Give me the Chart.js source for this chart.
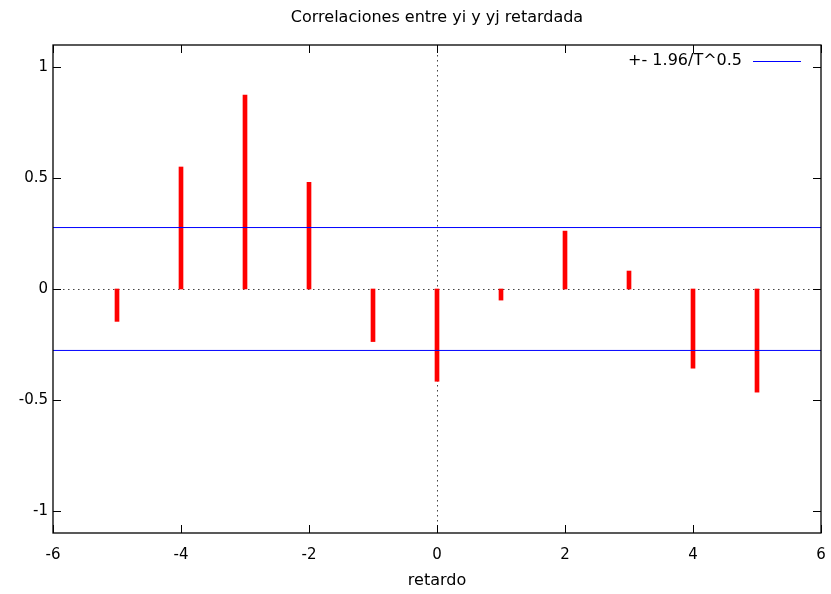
<!DOCTYPE html>
<html>
<head>
<meta charset="utf-8">
<script src="https://cdn.jsdelivr.net/npm/chart.js@4/dist/chart.umd.min.js"></script>
<style>
  html, body { margin: 0; padding: 0; background: #fff; }
  #wrap { width: 831px; height: 594px; position: relative; }
</style>
</head>
<body>
<div id="wrap"><canvas id="c"></canvas></div>
<script>
// ---- data ----
const lags = [-5, -4, -3, -2, -1, 0, 1, 2, 3, 4, 5];
const correlations = [-0.146, 0.550, 0.874, 0.481, -0.237, -0.416, -0.050, 0.261, 0.081, -0.357, -0.465];
const bandValue = 0.277;
const bandLabel = '+- 1.96/T^0.5';
const xTicks = [-6, -4, -2, 0, 2, 4, 6];
const yTicks = [-1, -0.5, 0, 0.5, 1];
const titleText = 'Correlaciones entre yi y yj retardada';
const xTitle = 'retardo';

const FONT = "'DejaVu Sans', sans-serif";

const frameTicks = {
  id: 'frameTicks',
  beforeDatasetsDraw(chart) {
    const ctx = chart.ctx, a = chart.chartArea;
    const xs = chart.scales.x, ys = chart.scales.y;
    ctx.save();
    ctx.strokeStyle = '#444';
    ctx.lineWidth = 1;
    ctx.setLineDash([1.5, 3.5]);
    const x0 = Math.round(xs.getPixelForValue(0)) + 0.5;
    const y0 = Math.round(ys.getPixelForValue(0)) + 0.5;
    ctx.beginPath();
    ctx.moveTo(x0, a.top); ctx.lineTo(x0, a.bottom);
    ctx.moveTo(a.left, y0); ctx.lineTo(a.right, y0);
    ctx.stroke();
    ctx.restore();
  },
  afterDatasetsDraw(chart) {
    const ctx = chart.ctx, a = chart.chartArea;
    const xs = chart.scales.x, ys = chart.scales.y;
    const L = 8;
    ctx.save();
    ctx.strokeStyle = '#000';
    ctx.lineWidth = 1;
    ctx.beginPath();
    xTicks.forEach(v => {
      const px = Math.round(xs.getPixelForValue(v)) + 0.5;
      ctx.moveTo(px, a.bottom); ctx.lineTo(px, a.bottom - L);
      ctx.moveTo(px, a.top); ctx.lineTo(px, a.top + L);
    });
    yTicks.forEach(v => {
      const py = Math.round(ys.getPixelForValue(v)) + 0.5;
      ctx.moveTo(a.left, py); ctx.lineTo(a.left + L, py);
      ctx.moveTo(a.right, py); ctx.lineTo(a.right - L, py);
    });
    ctx.stroke();
    ctx.lineWidth = 1.3;
    ctx.strokeRect(a.left, a.top, a.right - a.left, a.bottom - a.top);
    // legend (inside plot, top right)
    const ds = chart.data.datasets[1];
    const ly = a.top + 16;
    ctx.font = "16px " + FONT;
    ctx.fillStyle = '#000';
    ctx.textAlign = 'right';
    ctx.textBaseline = 'middle';
    ctx.fillText(ds.label, a.right - 79, ly);
    ctx.strokeStyle = ds.borderColor;
    ctx.lineWidth = 1;
    ctx.beginPath();
    ctx.moveTo(a.right - 68, Math.round(ly) + 0.5);
    ctx.lineTo(a.right - 20, Math.round(ly) + 0.5);
    ctx.stroke();
    ctx.restore();
  }
};

new Chart(document.getElementById('c'), {
  data: {
    datasets: [
      {
        type: 'bar',
        label: 'correlaciones',
        data: lags.map((l, i) => ({ x: l, y: correlations[i] })),
        backgroundColor: '#ff0000',
        borderWidth: 0,
        barThickness: 4,
        order: 2
      },
      {
        type: 'line',
        label: bandLabel,
        data: [{ x: xTicks[0], y: bandValue }, { x: xTicks[xTicks.length - 1], y: bandValue }],
        borderColor: '#0000ff',
        borderWidth: 1,
        pointRadius: 0,
        order: 1
      },
      {
        type: 'line',
        label: bandLabel,
        data: [{ x: xTicks[0], y: -bandValue }, { x: xTicks[xTicks.length - 1], y: -bandValue }],
        borderColor: '#0000ff',
        borderWidth: 1,
        pointRadius: 0,
        order: 1
      }
    ]
  },
  options: {
    responsive: true,
    maintainAspectRatio: false,
    animation: false,
    events: [],
    layout: { padding: { left: 0, right: 10, top: 0, bottom: 0 } },
    plugins: {
      legend: { display: false },
      tooltip: { enabled: false },
      title: {
        display: true,
        fullSize: false,
        text: titleText,
        color: '#000',
        font: { family: FONT, size: 16, weight: 'normal', lineHeight: 1.2 },
        padding: { top: 8, bottom: 17.8 }
      }
    },
    scales: {
      x: {
        type: 'linear',
        min: -6, max: 6,
        offset: false,
        grid: { display: false, drawTicks: false, tickLength: 0 },
        border: { display: false },
        afterBuildTicks: s => { s.ticks = xTicks.map(v => ({ value: v })); },
        afterFit: s => { s.height = 61; s.paddingLeft = 0; s.paddingRight = 0; },
        ticks: {
          color: '#000',
          padding: 13,
          maxRotation: 0,
          font: { family: FONT, size: 15 },
          callback: v => String(v)
        },
        title: {
          display: true,
          text: xTitle,
          color: '#000',
          font: { family: FONT, size: 16, lineHeight: 1.2 },
          padding: { top: 0, bottom: 4 }
        }
      },
      y: {
        type: 'linear',
        min: -1.1, max: 1.1,
        grid: { display: false, drawTicks: false, tickLength: 0 },
        border: { display: false },
        afterBuildTicks: s => { s.ticks = yTicks.map(v => ({ value: v })); },
        afterFit: s => { s.width = 53; },
        ticks: {
          color: '#000',
          padding: 5,
          font: { family: FONT, size: 15 },
          callback: v => String(v)
        }
      }
    }
  },
  plugins: [frameTicks]
});
</script>
</body>
</html>
